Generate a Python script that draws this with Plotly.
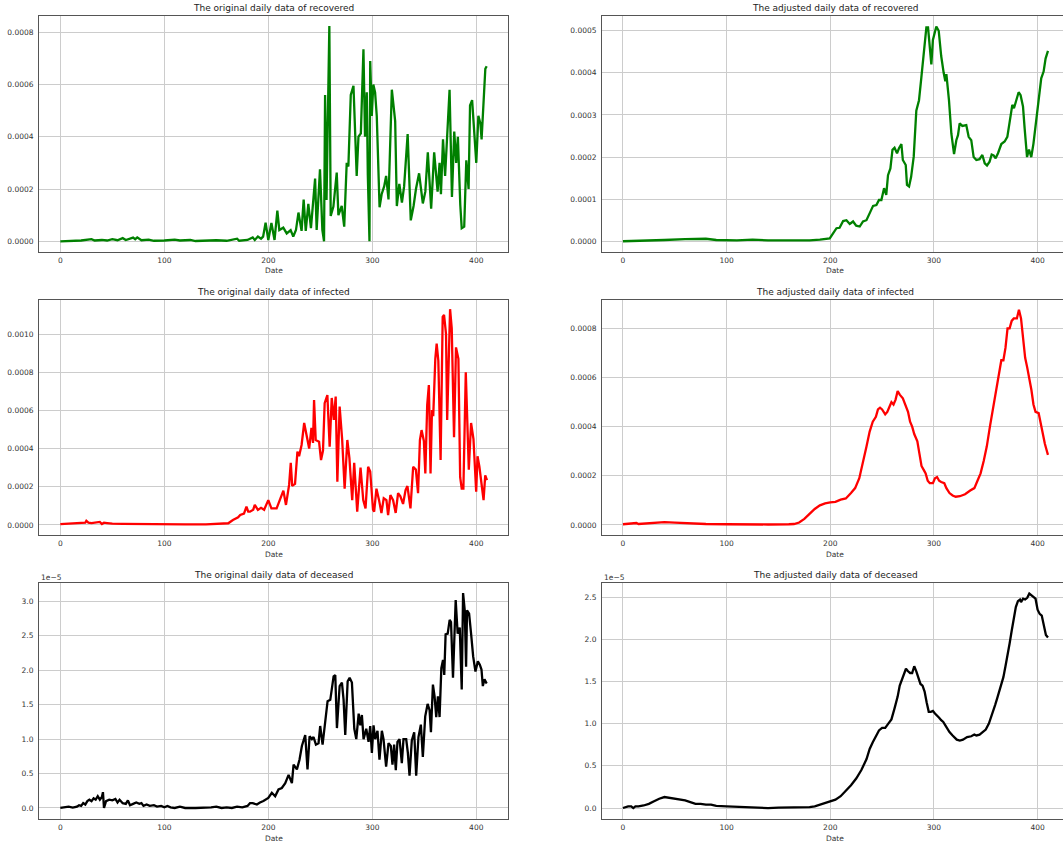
import plotly.graph_objects as go

# ---------------- data ----------------
rec_orig_day = [0, 10, 20, 30, 33, 40, 45, 50, 55, 60, 63, 70, 72, 74, 78, 85, 90, 100, 110, 115, 125, 130, 140,
                150, 160, 170, 172, 180, 185, 187, 190, 193, 195, 197.4, 200, 203, 206, 208.7, 210.6, 214.4, 217.7,
                221.5, 224, 226.6, 229, 232, 234, 236, 238.5, 241, 245, 246.5, 249.7, 252, 253.6, 254.6, 256, 258.7,
                260, 262.6, 265.8, 267.4, 270.6, 273, 275.4, 277, 279.3, 281.9, 285, 286.7, 289, 291.5, 293, 294.7,
                295.7, 297.3, 298, 299.5, 301, 302.7, 304.3, 307, 309, 311.4, 313.3, 315.6, 318.8, 322, 323.6, 326,
                328.5, 330.6, 334, 337, 339.7, 342, 345, 348.6, 351, 353.4, 356.6, 359.5, 362.8, 364.7, 366, 368,
                370, 372.4, 374.3, 376.6, 378.8, 380.7, 382.3, 384.6, 386, 388.4, 390.4, 392.6, 394, 396, 397.6, 400,
                402, 404, 405.1, 407, 408.7, 410]
rec_orig_val = [0, 0.000002, 0.000003, 0.000008, 0.000003, 0.000005, 0.000003, 0.000008, 0.000004, 0.000012,
                0.000005, 0.000014, 0.000008, 0.000015, 0.000004, 0.000006, 0.000002, 0.000003, 0.000006, 0.000003,
                0.000005, 0.000001, 0.000003, 0.000004, 0.000002, 0.00001, 0.000002, 0.000005, 0.000015, 0.000005,
                0.000018, 0.00001, 0.000018, 0.0000715, 0.000005, 0.00007, 0.000005, 0.000117, 0.000043, 0.000052,
                0.00003, 0.000043, 0.000018, 0.000043, 0.00011, 0.00004, 0.00016, 0.00004, 0.000143, 0.00005,
                0.00024, 0.000043, 0.000275, 0.000043, 0.0, 0.00056, 0.000158, 0.000824, 0.000097, 0.000133,
                0.000263, 0.0001, 0.000135, 0.000056, 0.0003, 0.000286, 0.00056, 0.000595, 0.00025, 0.0004,
                0.000413, 0.000735, 0.0004, 0.00057, 0.000254, 0.0, 0.00069, 0.00048, 0.0006, 0.00057, 0.00048,
                0.00013, 0.00018, 0.00021, 0.00025, 0.00016, 0.00058, 0.00046, 0.000135, 0.00022, 0.000148, 0.00021,
                0.00041, 0.00008, 0.000135, 0.0002, 0.00026, 0.000145, 0.00019, 0.00034, 0.000125, 0.00034, 0.00019,
                0.0003, 0.00018, 0.00039, 0.00025, 0.00045, 0.00058, 0.00017, 0.00042, 0.0003, 0.0004, 0.00014,
                0.00005, 0.000056, 0.00031, 0.0002, 0.00052, 0.00054, 0.00044, 0.0003, 0.00048, 0.00045, 0.00039,
                0.00053, 0.00066, 0.00067]

rec_adj_day = [0, 20, 40, 60, 70, 80, 90, 110, 125, 140, 160, 180, 190, 195, 199.5, 202.7, 206, 209, 212.4, 215.6,
               218.8, 222, 225, 228.4, 231.6, 234.9, 238, 241.3, 244.5, 247, 249.3, 251.9, 254, 255.7, 258, 260, 262,
               264.4, 266.3, 268.6, 270, 272.8, 274, 276, 278, 280.5, 283, 285.6, 287.9, 289.5, 291, 292.7, 294.3,
               296, 297.5, 299, 300.7, 302.3, 304.6, 307, 309.4, 311, 312, 314.5, 316.8, 319.4, 321.6, 323.2, 324.8,
               327.4, 331.2, 333.5, 336, 338.3, 340.9, 344, 346.7, 349, 351.2, 353.7, 355.7, 357.6, 359.5, 361.8,
               365, 368.2, 370.8, 373, 375.6, 377.2, 379.4, 381.7, 383.6, 385.9, 387.5, 389.8, 391.7, 393.9, 396,
               398.7, 401, 403.5, 405.8, 407.7, 410]
rec_adj_val = [0, 0.000001, 0.000003, 0.000005, 0.000006, 0.000006, 0.000003, 0.000002, 0.000004, 0.000002,
               0.000002, 0.000002, 0.000004, 0.000005, 0.000007, 0.000019, 0.000031, 0.000032, 0.000048, 0.00005,
               0.000041, 0.000047, 0.000037, 0.000035, 0.000047, 0.00005, 0.000066, 0.000084, 0.000086, 0.000098,
               0.000098, 0.000126, 0.00011, 0.000157, 0.000173, 0.000217, 0.000222, 0.000209, 0.000221, 0.000231,
               0.000193, 0.000181, 0.000134, 0.00013, 0.000153, 0.000201, 0.00031, 0.000335, 0.00039, 0.00043,
               0.000454, 0.000508, 0.000508, 0.00046, 0.00042, 0.000478, 0.000494, 0.00051, 0.0005, 0.00044, 0.0004,
               0.00038, 0.000397, 0.000335, 0.000256, 0.000207, 0.00024, 0.000252, 0.00028, 0.000274, 0.000276,
               0.000248, 0.00024, 0.0002, 0.000193, 0.000195, 0.000205, 0.000185, 0.00018, 0.000189, 0.000206,
               0.000204, 0.000197, 0.000209, 0.000231, 0.000237, 0.000248, 0.000288, 0.000324, 0.000316, 0.000334,
               0.000354, 0.000347, 0.00032, 0.000268, 0.0002, 0.000218, 0.0002, 0.000232, 0.000292, 0.000335,
               0.000387, 0.000403, 0.000434, 0.000452]

inf_orig_day = [0, 10, 20, 24, 25, 27, 30, 35, 38, 40, 42, 45, 50, 60, 70, 80, 100, 120, 140, 150, 160, 161.5, 166,
                169.5, 171, 173, 176.6, 179, 180.7, 182.4, 185.5, 187, 190, 193, 196, 200, 203, 208, 211, 214.5, 217,
                220, 221.6, 223, 225.7, 228, 229.6, 232, 234.5, 236.7, 239.3, 241.5, 243, 244, 245.6, 248.8, 250.7,
                252.6, 254.2, 256.8, 259, 261, 263, 264.8, 266.4, 268.6, 271, 273.4, 276, 278, 280.7, 282.6, 285.5,
                288.7, 291.3, 293.5, 296, 298, 300.7, 301.8, 304, 306.5, 308.8, 311, 313.6, 315.2, 317.4, 320, 322.5,
                324.8, 327, 329.6, 332, 333.8, 336.7, 339.3, 341.9, 344, 345.8, 347.4, 349.6, 351, 352.8, 354.4, 356,
                357.4, 358.6, 360.6, 361.9, 363.5, 365.7, 367.7, 369, 370.9, 372, 374.8, 376.4, 378.6, 380.5, 382.8,
                384.5, 386, 387.6, 389.9, 391.5, 392.8, 395, 397.3, 399.9, 401.2, 403, 405.4, 407, 408.6, 410.3]
inf_orig_val = [0.000005, 0.000008, 0.000009, 0.000012, 0.000022, 0.000012, 0.00001, 0.000012, 0.000016, 0.000005,
                0.000012, 0.00001, 0.000007, 0.000006, 0.000005, 0.000004, 0.000003, 0.000003, 0.000003, 0.000005,
                0.000006, 0.000009, 0.000026, 0.000035, 0.00004, 0.000052, 0.00006, 0.000096, 0.00007, 0.00007,
                0.00008, 0.000105, 0.000079, 0.00009, 0.00008, 0.00013, 0.000087, 0.000087, 0.00013, 0.00018,
                0.000105, 0.00021, 0.000325, 0.000205, 0.000215, 0.000384, 0.00036, 0.000419, 0.000534, 0.00048,
                0.0004, 0.000508, 0.00043, 0.000654, 0.000445, 0.000436, 0.00034, 0.00039, 0.000638, 0.00068,
                0.00041, 0.000665, 0.00055, 0.000672, 0.000227, 0.00062, 0.00045, 0.00019, 0.000445, 0.00035,
                0.00013, 0.000325, 0.00007, 0.0003, 0.00013, 0.000087, 0.000305, 0.00028, 0.00008, 0.00007, 0.00019,
                0.00013, 0.000063, 0.00014, 0.00013, 0.000052, 0.000157, 0.00013, 0.000063, 0.000167, 0.00015,
                0.00011, 0.000183, 0.000204, 0.000087, 0.000305, 0.00029, 0.000167, 0.000445, 0.000497, 0.00044,
                0.00027, 0.000628, 0.000733, 0.00027, 0.000602, 0.00057, 0.00087, 0.00095, 0.00086, 0.00034,
                0.00109, 0.0011, 0.001, 0.00055, 0.00113, 0.00103, 0.00046, 0.00093, 0.00087, 0.00025, 0.00019,
                0.00019, 0.0008, 0.00052, 0.00029, 0.000534, 0.00045, 0.000174, 0.00036, 0.000305, 0.000178,
                0.00013, 0.00026, 0.000235]

inf_adj_day = [0, 10, 13, 15, 25, 35, 40, 50, 60, 80, 100, 120, 140, 160, 165, 170, 175, 180, 185, 190, 195, 200,
               205, 210, 215, 220, 224, 228, 232, 235, 238, 241, 244, 246, 248, 250, 253, 255, 257, 259, 261, 263,
               265, 267, 270, 272, 275, 277, 279, 281, 284, 286, 288, 290, 292, 294, 296, 299, 301, 303, 305, 307,
               310, 312, 315, 318, 321, 325, 330, 335, 339, 342, 345, 348, 351, 354, 356, 358, 361, 363, 365, 367,
               369, 371, 373, 375, 377, 380, 382, 384, 386, 388, 390, 392, 394, 396, 398, 401, 403, 405, 407, 409, 410]
inf_adj_val = [0.000003, 0.000005, 0.000008, 0.000004, 0.000007, 0.000011, 0.000012, 0.00001, 0.000007, 0.000004,
               0.000003, 0.000002, 0.000002, 0.000003, 0.000004, 0.00001, 0.000025, 0.000045, 0.000065, 0.00008,
               0.000088, 0.000092, 0.000094, 0.000103, 0.000108, 0.00013, 0.00015, 0.00019, 0.00026, 0.00032,
               0.00038, 0.00042, 0.00044, 0.00047, 0.000477, 0.00047, 0.00045, 0.00046, 0.00048, 0.0005, 0.00049,
               0.00051, 0.000545, 0.00053, 0.000515, 0.00049, 0.00046, 0.00042, 0.0004, 0.00037, 0.00034, 0.00029,
               0.00024, 0.000225, 0.00021, 0.00018, 0.00017, 0.00017, 0.00019, 0.000195, 0.00018, 0.000175, 0.00017,
               0.00015, 0.00013, 0.00012, 0.000115, 0.000117, 0.000125, 0.00014, 0.00015, 0.00018, 0.00021, 0.00026,
               0.00032, 0.0004, 0.00045, 0.00049, 0.00057, 0.00063, 0.00067, 0.00067, 0.00072, 0.0008, 0.0008,
               0.00083, 0.00084, 0.00084, 0.000875, 0.00084, 0.00076, 0.00068, 0.00064, 0.0006, 0.00055, 0.00049,
               0.00046, 0.000455, 0.00041, 0.00036, 0.00033, 0.0003, 0.000285]

# deceased values in units of 1e-5
dec_orig_day = [0, 5, 8, 12, 16, 18, 20, 22, 24, 26, 28, 30, 32, 34, 36, 38, 40, 41, 42, 44, 47, 50, 53, 55, 57, 60,
                63, 65, 67, 70, 73, 76, 78, 80, 83, 86, 90, 93, 97, 100, 103, 106, 110, 115, 120, 130, 140, 145, 150,
                155, 160, 165, 170, 175, 180, 182.4, 185, 189, 192, 195.3, 200, 203.4, 206.6, 209.8, 213, 216.3,
                219.5, 222.7, 224.3, 227.5, 230, 232.3, 235.5, 237.7, 239.7, 241.9, 243.5, 245.8, 248.3, 249.9, 252.2,
                253.8, 257, 259.6, 262.8, 264.4, 266, 268.6, 270.8, 272.4, 274, 276.3, 278.2, 280.4, 282.7, 284.6,
                286.9, 288.5, 290, 291.6, 294.2, 296.4, 298, 299.6, 301.2, 302.8, 305, 306.9, 309.2, 310.8, 313.3,
                315.6, 317.8, 319.4, 321, 322.6, 324.2, 326.2, 328.4, 330, 332.6, 334.2, 335.8, 338, 340.3, 342.2,
                344.4, 346.7, 348.6, 350.9, 353.2, 355.1, 356.4, 358.3, 359.9, 361.5, 363.1, 364.7, 366.4, 368, 369.2,
                370.5, 372.5, 374.4, 375.7, 377.6, 378.9, 380.2, 382.1, 384.1, 386, 387.3, 388.9, 390.2, 391.1, 393.1,
                395, 397, 399.2, 401.5, 403.4, 405, 406.3, 407.9, 409.5, 410.4]
dec_orig_val = [0, 0.01, 0.02, 0.005, 0.02, 0.04, 0.03, 0.07, 0.05, 0.1, 0.12, 0.1, 0.14, 0.12, 0.17, 0.12, 0.16,
                0.23, 0.0, 0.1, 0.12, 0.11, 0.13, 0.08, 0.12, 0.07, 0.06, 0.11, 0.04, 0.06, 0.08, 0.06, 0.07, 0.03,
                0.05, 0.03, 0.04, 0.02, 0.03, 0.01, 0.03, 0.01, 0.0, 0.02, 0.0, 0.0, 0.0, 0.01, 0.02, 0.0, 0.01, 0.0,
                0.02, 0.01, 0.03, 0.07, 0.07, 0.05, 0.08, 0.1, 0.145, 0.22, 0.17, 0.27, 0.29, 0.36, 0.48, 0.36, 0.63,
                0.56, 0.7, 0.9, 1.06, 0.56, 1.04, 1.0, 1.03, 0.92, 0.94, 1.19, 0.92, 1.15, 1.55, 1.57, 1.91, 1.93,
                1.16, 1.77, 1.82, 1.57, 1.06, 1.84, 1.89, 1.82, 1.15, 1.0, 1.37, 1.2, 1.35, 1.0, 1.15, 0.96, 1.19,
                0.8, 1.2, 1.0, 1.12, 0.7, 1.12, 1.0, 0.6, 0.94, 0.9, 0.63, 0.92, 0.55, 0.96, 1.0, 0.65, 1.0, 1.0,
                0.8, 0.47, 0.98, 1.1, 0.47, 1.03, 1.21, 0.74, 1.33, 1.51, 1.42, 1.1, 1.79, 1.62, 1.32, 1.62, 1.32,
                2.03, 2.15, 1.93, 2.52, 2.53, 2.73, 2.7, 1.89, 2.53, 3.02, 2.53, 2.62, 1.72, 3.12, 2.87, 2.05, 2.87,
                2.82, 2.53, 2.2, 1.98, 2.13, 2.08, 2.01, 1.77, 1.87, 1.82, 1.83]

dec_adj_day = [0, 3, 5, 8, 10, 12, 15, 20, 25, 30, 35, 40, 45, 50, 55, 60, 65, 70, 75, 80, 85, 90, 100, 110, 120,
               130, 140, 150, 160, 170, 180, 185, 190, 195, 200, 205, 210, 215, 220, 225, 230, 235, 238, 241, 244,
               247, 250, 253, 256, 259, 262, 265, 267, 269, 271, 273, 275, 277, 279, 281, 283, 285, 287, 289, 291,
               293, 295, 297, 299, 301, 303, 305, 307, 309, 311, 313, 315, 318, 320, 322, 325, 328, 332, 336, 339,
               341, 344, 347, 350, 353, 356, 359, 361, 363, 365, 367, 369, 371, 373, 375, 377, 379, 381, 383, 384,
               386, 388, 390, 392, 394, 396, 398, 400, 402, 404, 406, 408, 410]
dec_adj_val = [0, 0.01, 0.02, 0.02, 0.0, 0.02, 0.02, 0.03, 0.05, 0.08, 0.11, 0.13, 0.12, 0.11, 0.1, 0.09, 0.07,
               0.05, 0.05, 0.04, 0.04, 0.025, 0.02, 0.015, 0.01, 0.005, 0.0, 0.005, 0.005, 0.005, 0.01, 0.02, 0.04,
               0.06, 0.08, 0.1, 0.14, 0.2, 0.27, 0.35, 0.45, 0.58, 0.7, 0.78, 0.86, 0.92, 0.95, 0.95, 1.0, 1.05,
               1.18, 1.32, 1.45, 1.52, 1.6, 1.65, 1.62, 1.6, 1.6, 1.68, 1.62, 1.55, 1.47, 1.45, 1.38, 1.25, 1.14,
               1.14, 1.15, 1.12, 1.1, 1.07, 1.04, 1.02, 0.98, 0.94, 0.9, 0.86, 0.84, 0.81, 0.8, 0.81, 0.84, 0.85,
               0.87, 0.86, 0.87, 0.9, 0.93, 1.0, 1.1, 1.22, 1.3, 1.38, 1.45, 1.55, 1.68, 1.8, 1.95, 2.1, 2.22, 2.38,
               2.45, 2.47, 2.44, 2.48, 2.47, 2.49, 2.54, 2.52, 2.49, 2.48, 2.35, 2.3, 2.28, 2.15, 2.05, 2.02]

titles = ["The original daily data of recovered", "The adjusted daily data of recovered",
          "The original daily data of infected", "The adjusted daily data of infected",
          "The original daily data of deceased", "The adjusted daily data of deceased"]
x_ticks = [0, 100, 200, 300, 400]
x_label = "Date"

# ---------------- layout ----------------
W, H = 1063, 844
def px_x(p): return p / W
def px_y(p): return 1 - p / H

left_dom = [px_x(39), px_x(508)]
right_dom = [px_x(602), 1.0]
rows_px = [(16, 252), (300, 535), (583, 819)]

panels = [
    dict(x=rec_orig_day, y=rec_orig_val, color="green", col=0, row=0, yr=[-0.000041, 0.000862],
         yt=[0, 0.0002, 0.0004, 0.0006, 0.0008], fmt=".4f"),
    dict(x=rec_adj_day, y=rec_adj_val, color="green", col=1, row=0, yr=[-0.0000255, 0.000535],
         yt=[0, 0.0001, 0.0002, 0.0003, 0.0004, 0.0005], fmt=".4f"),
    dict(x=inf_orig_day, y=inf_orig_val, color="red", col=0, row=1, yr=[-0.0000524, 0.001178],
         yt=[0, 0.0002, 0.0004, 0.0006, 0.0008, 0.0010], fmt=".4f"),
    dict(x=inf_adj_day, y=inf_adj_val, color="red", col=1, row=1, yr=[-0.0000407, 0.000915],
         yt=[0, 0.0002, 0.0004, 0.0006, 0.0008], fmt=".4f"),
    dict(x=dec_orig_day, y=dec_orig_val, color="black", col=0, row=2, yr=[-0.16, 3.266],
         yt=[0, 0.5, 1.0, 1.5, 2.0, 2.5, 3.0], fmt=".1f"),
    dict(x=dec_adj_day, y=dec_adj_val, color="black", col=1, row=2, yr=[-0.13, 2.666],
         yt=[0, 0.5, 1.0, 1.5, 2.0, 2.5], fmt=".1f"),
]

fig = go.Figure()
annotations = []
FONT = "DejaVu Sans"
TXT = "#333333"
GRID = "#cccccc"
SPINE = "#555555"
TICK_SIZE = 7.5

for i, p in enumerate(panels):
    n = i + 1
    xa = "xaxis" if n == 1 else f"xaxis{n}"
    ya = "yaxis" if n == 1 else f"yaxis{n}"
    xref = "x" if n == 1 else f"x{n}"
    yref = "y" if n == 1 else f"y{n}"
    top, bot = rows_px[p["row"]]
    xdom = left_dom if p["col"] == 0 else right_dom
    xrange = [-20.5, 430.5] if p["col"] == 0 else [-20.2, 424.5]
    fig.add_trace(go.Scatter(x=p["x"], y=p["y"], mode="lines", line=dict(color=p["color"], width=2.3),
                             xaxis=xref, yaxis=yref, showlegend=False))
    fig.layout[xa] = dict(domain=xdom, range=xrange, anchor=yref, tickvals=x_ticks, showgrid=True,
                          gridcolor=GRID, gridwidth=1, zeroline=False, showline=True, linecolor=SPINE,
                          linewidth=1, mirror=True, ticks="", ticklabelstandoff=1,
                          tickfont=dict(family=FONT, size=TICK_SIZE, color=TXT))
    fig.layout[ya] = dict(domain=[px_y(bot), px_y(top)], range=p["yr"], anchor=xref, tickvals=p["yt"],
                          tickformat=p["fmt"], showgrid=True, gridcolor=GRID, gridwidth=1, zeroline=False,
                          showline=True, linecolor=SPINE, linewidth=1, mirror=(p["col"] == 0), ticks="",
                          ticklabelstandoff=3, tickfont=dict(family=FONT, size=TICK_SIZE, color=TXT))
    cx = (xdom[0] + xdom[1]) / 2 if p["col"] == 0 else px_x(835)
    annotations.append(dict(text=titles[i], xref="paper", yref="paper", x=cx, y=px_y(top - 8),
                            xanchor="center", yanchor="middle", showarrow=False,
                            font=dict(family=FONT, size=9, color="#222222")))
    annotations.append(dict(text=x_label, xref="paper", yref="paper", x=cx, y=px_y(bot + 19),
                            xanchor="center", yanchor="middle", showarrow=False,
                            font=dict(family=FONT, size=TICK_SIZE, color=TXT)))
    if p["row"] == 2:
        annotations.append(dict(text="1e\u22125", xref="paper", yref="paper", x=xdom[0], y=px_y(top - 6),
                                xanchor="left", yanchor="middle", showarrow=False,
                                font=dict(family=FONT, size=7.5, color=TXT)))

fig.update_layout(width=W, height=H, margin=dict(l=0, r=0, t=0, b=0), paper_bgcolor="white",
                  plot_bgcolor="white", annotations=annotations, showlegend=False)

fig.write_html("out.html", config={"displayModeBar": False},
               post_script="document.body.style.margin='0';document.body.style.overflow='hidden';")
